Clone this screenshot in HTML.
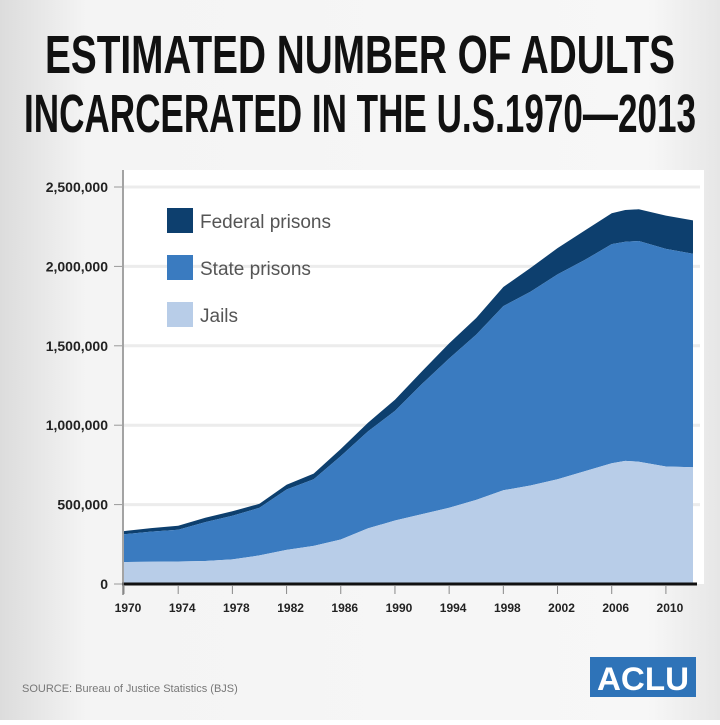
<!DOCTYPE html>
<html><head><meta charset="utf-8"><style>
body{margin:0;width:720px;height:720px;overflow:hidden;font-family:"Liberation Sans",sans-serif;}
</style></head><body>
<svg width="720" height="720" viewBox="0 0 720 720" xmlns="http://www.w3.org/2000/svg">
<defs>
<linearGradient id="bg" x1="0" x2="1" y1="0" y2="0">
<stop offset="0" stop-color="#dcdcdc"/><stop offset="0.12" stop-color="#f4f4f4"/><stop offset="0.9" stop-color="#f7f7f7"/><stop offset="1" stop-color="#e6e6e6"/>
</linearGradient>
</defs>
<rect width="720" height="720" fill="url(#bg)"/>
<rect x="124" y="170" width="580" height="414" fill="#ffffff"/>
<g font-family="'Liberation Sans', sans-serif" font-weight="bold" fill="#111">
<text x="360" y="73" text-anchor="middle" font-size="54" textLength="630" lengthAdjust="spacingAndGlyphs">ESTIMATED NUMBER OF ADULTS</text>
<text x="360" y="132" text-anchor="middle" font-size="54" textLength="672" lengthAdjust="spacingAndGlyphs">INCARCERATED IN THE U.S.1970—2013</text>
</g>
<g id="grid"></g>
<g id="areas"></g>
<g id="axes"></g>
<g>
<rect x="167" y="208" width="26" height="25" fill="#0d3f6e"/>
<text x="200" y="228" font-size="19" fill="#555">Federal prisons</text>
<rect x="167" y="255" width="26" height="25" fill="#3a7bc0"/>
<text x="200" y="275" font-size="19" fill="#555">State prisons</text>
<rect x="167" y="302" width="26" height="25" fill="#b8cde8"/>
<text x="200" y="322" font-size="19" fill="#555">Jails</text>
</g>
<text x="22" y="692" font-size="11" fill="#777">SOURCE: Bureau of Justice Statistics (BJS)</text>
<rect x="590" y="657" width="106" height="40" fill="#2e73b8"/>
<text x="643" y="690" font-size="32" font-weight="bold" fill="#fff" text-anchor="middle" textLength="92" lengthAdjust="spacingAndGlyphs">ACLU</text>
</svg>
<script>
const years =   [1970,1972,1974,1976,1978,1980,1982,1984,1986,1988,1990,1992,1994,1996,1998,2000,2002,2004,2006,2007,2008,2010,2012];
const jails =   [138,140,142,145,155,180,215,240,280,350,400,440,480,530,590,620,660,710,760,775,770,740,735];
const state =   [175,190,200,245,275,300,380,420,525,610,690,820,940,1040,1160,1220,1290,1330,1380,1380,1390,1370,1345];
const federal = [20,22,25,27,28,25,30,35,45,55,70,80,95,105,120,150,165,185,195,200,200,210,210];
const yTicks = [0,500000,1000000,1500000,2000000,2500000];
const yTickLabels = ["0","500,000","1,000,000","1,500,000","2,000,000","2,500,000"];
const xTicks = [1970,1974,1978,1982,1986,1990,1994,1998,2002,2006,2010];
const NS="http://www.w3.org/2000/svg";
const x = yr => 124 + (yr-1970)*(693-124)/42;
const y = v => 584 - v*(584-187)/2500000;
const grid=document.getElementById('grid'), areas=document.getElementById('areas'), axes=document.getElementById('axes');
yTicks.forEach((t,i)=>{
  if(t>0){const g=document.createElementNS(NS,'line');
  g.setAttribute('x1',124);g.setAttribute('x2',700);g.setAttribute('y1',y(t));g.setAttribute('y2',y(t));
  g.setAttribute('stroke','#ececec');g.setAttribute('stroke-width','3');
  
  
  grid.appendChild(g);}
  const tx=document.createElementNS(NS,'text');
  tx.setAttribute('x',108);tx.setAttribute('y',y(t)+5);tx.setAttribute('text-anchor','end');
  tx.setAttribute('font-size','14');tx.setAttribute('font-weight','bold');tx.setAttribute('fill','#222');
  tx.textContent=yTickLabels[i];
  
  
  axes.appendChild(tx);
  const tk=document.createElementNS(NS,'line');
  tk.setAttribute('x1',114);tk.setAttribute('x2',122);tk.setAttribute('y1',y(t));tk.setAttribute('y2',y(t));tk.setAttribute('stroke','#999');
  
  
  axes.appendChild(tk);
});
function band(lo,hi,color,name){
  let d='M'+x(years[0])+','+y(hi[0]*1000);
  for(let i=1;i<years.length;i++) d+=' L'+x(years[i])+','+y(hi[i]*1000);
  for(let i=years.length-1;i>=0;i--) d+=' L'+x(years[i])+','+y(lo[i]*1000);
  const p=document.createElementNS(NS,'path');p.setAttribute('d',d+'Z');p.setAttribute('fill',color);
  
  
  areas.appendChild(p);
}
const zero=years.map(()=>0);
const s1=jails.slice();
const s2=jails.map((v,i)=>v+state[i]);
const s3=s2.map((v,i)=>v+federal[i]);
band(s2,s3,'#0d3f6e','area-federal-prisons');
band(s1,s2,'#3a7bc0','area-state-prisons');
band(zero,s1,'#b8cde8','area-jails');
const ax=document.createElementNS(NS,'line');
ax.setAttribute('x1',122);ax.setAttribute('x2',697);ax.setAttribute('y1',584);ax.setAttribute('y2',584);
ax.setAttribute('stroke','#111');ax.setAttribute('stroke-width','3');


axes.appendChild(ax);
const ay=document.createElementNS(NS,'line');
ay.setAttribute('x1',123);ay.setAttribute('x2',123);ay.setAttribute('y1',170);ay.setAttribute('y2',595);
ay.setAttribute('stroke','#888');ay.setAttribute('stroke-width','1.5');


axes.appendChild(ay);
xTicks.forEach(t=>{
  const tk=document.createElementNS(NS,'line');
  tk.setAttribute('x1',x(t));tk.setAttribute('x2',x(t));tk.setAttribute('y1',586);tk.setAttribute('y2',594);tk.setAttribute('stroke','#888');
  
  
  axes.appendChild(tk);
  const tx=document.createElementNS(NS,'text');
  tx.setAttribute('x',x(t)+4);tx.setAttribute('y',612);tx.setAttribute('text-anchor','middle');
  tx.setAttribute('font-size','12');tx.setAttribute('font-weight','bold');tx.setAttribute('fill','#222');
  tx.textContent=t;
  
  
  axes.appendChild(tx);
});
</script>
</body></html>
